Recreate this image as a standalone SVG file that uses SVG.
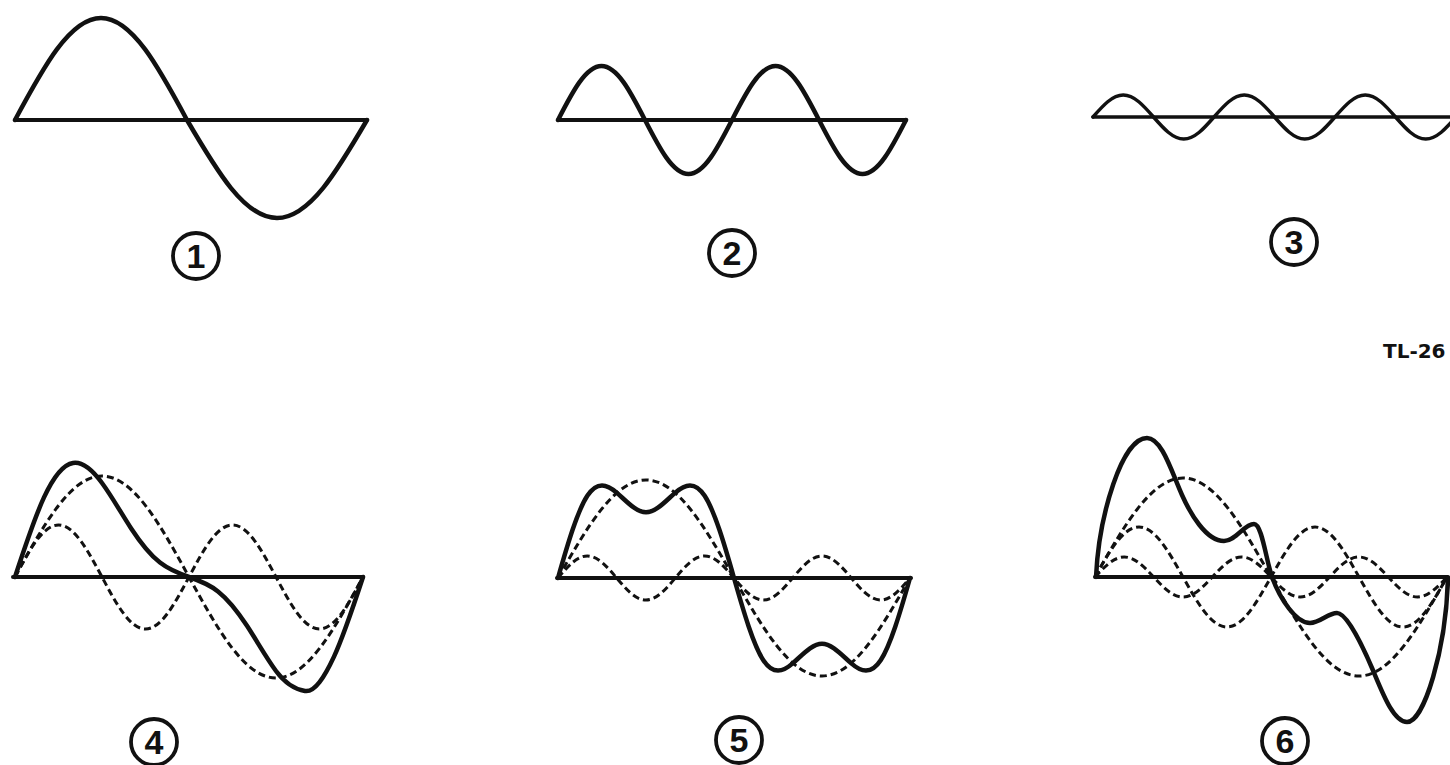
<svg xmlns="http://www.w3.org/2000/svg" width="1450" height="765" viewBox="0 0 1450 765">
<style>
.axis{stroke:#111;stroke-width:4;fill:none;stroke-linecap:round}
.solid{stroke:#111;stroke-width:4.5;fill:none;stroke-linecap:round;stroke-linejoin:round}
.thin{stroke-width:3.5}
.dash{stroke:#111;stroke-width:3;fill:none;stroke-dasharray:7 4}
.lbl circle{fill:none;stroke:#111;stroke-width:3.8}
.lbl text{font-family:"Liberation Sans",Arial,sans-serif;font-weight:bold;font-size:34px;fill:#111;text-anchor:middle}
.code{font-family:"DejaVu Sans",Verdana,sans-serif;font-weight:bold;font-size:20px;fill:#111}
</style>
<rect width="1450" height="765" fill="#fff"/>

<g id="fig1">
<line class="axis" x1="15" y1="120" x2="367" y2="120"/>
<path class="solid" d="M15,120 C43.04,67.75 69.88,18 101,18 C132.12,18 158.96,67.75 187,120 C216.35,170.2 244.43,218 277,218 C309.57,218 337.65,170.2 367,120"/>
</g>
<g id="label1" class="lbl"><circle cx="196" cy="256" r="23"/><text x="196" y="268">1</text></g>

<g id="fig2">
<line class="axis" x1="558" y1="120" x2="906" y2="120"/>
<path class="solid" d="M558,120 c14.19,-27.66 27.76,-54 43.5,-54 c15.74,0 29.31,26.34 43.5,54 c14.19,27.66 27.76,54 43.5,54 c15.74,0 29.31,-26.34 43.5,-54 c14.19,-27.66 27.76,-54 43.5,-54 c15.74,0 29.31,26.34 43.5,54 c14.19,27.66 27.76,54 43.5,54 c15.74,0 29.31,-26.34 43.5,-54"/>
</g>
<g id="label2" class="lbl"><circle cx="732" cy="253" r="23"/><text x="732" y="265">2</text></g>

<g id="fig3">
<line class="axis thin" x1="1093" y1="117" x2="1456" y2="117"/>
<path class="solid thin" d="M1093,117 c9.86,-11.27 19.3,-22 30.25,-22 c10.95,0 20.39,10.73 30.25,22 c9.86,11.27 19.3,22 30.25,22 c10.95,0 20.39,-10.73 30.25,-22 c9.86,-11.27 19.3,-22 30.25,-22 c10.95,0 20.39,10.73 30.25,22 c9.86,11.27 19.3,22 30.25,22 c10.95,0 20.39,-10.73 30.25,-22 c9.86,-11.27 19.3,-22 30.25,-22 c10.95,0 20.39,10.73 30.25,22 c9.86,11.27 19.3,22 30.25,22 c10.95,0 20.39,-10.73 30.25,-22"/>
</g>
<g id="label3" class="lbl"><circle cx="1294" cy="242" r="23"/><text x="1294" y="254">3</text></g>

<text id="code" class="code" x="1383" y="358">TL-26</text>

<g id="fig4">
<line class="axis" x1="13" y1="577" x2="363" y2="577"/>
<path class="dash" d="M15,577 c28.37,-51.74 55.51,-101 87,-101 c31.49,0 58.63,49.26 87,101 c28.37,51.74 55.51,101 87,101 c31.49,0 58.63,-49.26 87,-101"/>
<path class="dash" d="M15,577 c14.19,-26.64 27.76,-52 43.5,-52 c15.74,0 29.31,25.36 43.5,52 c14.19,26.64 27.76,52 43.5,52 c15.74,0 29.31,-25.36 43.5,-52 c14.19,-26.64 27.76,-52 43.5,-52 c15.74,0 29.31,25.36 43.5,52 c14.19,26.64 27.76,52 43.5,52 c15.74,0 29.31,-25.36 43.5,-52"/>
<path class="solid" d="M15,577 C24.67,547.5 34.33,518.2 44,497.4 C53.67,476.6 63.33,464.6 73,463 C82.67,461.4 92.33,469.9 102,483 C111.67,496.1 121.33,513.4 131,528.2 C140.67,543 150.33,555 160,562.6 C169.67,570.2 179.33,573.7 189,577 C198.67,580.3 208.33,583.8 218,591.4 C227.67,599 237.33,611 247,625.8 C256.67,640.6 266.33,657.9 276,671 C285.67,684.1 295.33,689.4 305,691 C314.67,692.6 324.33,677.4 334,656.6 C343.67,635.8 353.33,606.5 363,577"/>
</g>
<g id="label4" class="lbl"><circle cx="154" cy="742" r="23"/><text x="154" y="754">4</text></g>

<g id="fig5">
<line class="axis" x1="557" y1="578" x2="911" y2="578"/>
<path class="dash" d="M558,578 c28.7,-50.2 56.15,-98 88,-98 c31.85,0 59.3,47.8 88,98 c28.7,50.2 56.15,98 88,98 c31.85,0 59.3,-47.8 88,-98"/>
<path class="dash" d="M558,578 c9.57,-11.27 18.72,-22 29.33,-22 c10.62,0 19.76,10.73 29.33,22 c9.57,11.27 18.72,22 29.33,22 c10.62,0 19.76,-10.73 29.33,-22 c9.57,-11.27 18.72,-22 29.33,-22 c10.62,0 19.76,10.73 29.33,22 c9.57,11.27 18.72,22 29.33,22 c10.62,0 19.76,-10.73 29.33,-22 c9.57,-11.27 18.72,-22 29.33,-22 c10.62,0 19.76,10.73 29.33,22 c9.57,11.27 18.72,22 29.33,22 c10.62,0 19.76,-10.73 29.33,-22"/>
<path class="solid" d="M558,578 C567.78,543.6 577.56,510.7 587.33,495.8 C597.11,480.9 606.89,484 616.67,492.6 C626.44,501.2 636.22,512.3 646,512.3 C655.78,512.3 665.56,501.2 675.33,492.6 C685.11,484 694.89,480.9 704.67,495.8 C714.44,510.7 724.22,543.6 734,578 C743.78,612.4 753.56,645.3 763.33,660.2 C773.11,675.1 782.89,672 792.67,663.4 C802.44,654.8 812.22,643.7 822,643.7 C831.78,643.7 841.56,654.8 851.33,663.4 C861.11,672 870.89,675.1 880.67,660.2 C890.44,645.3 900.22,612.4 910,578"/>
</g>
<g id="label5" class="lbl"><circle cx="739" cy="740" r="23"/><text x="739" y="752">5</text></g>

<g id="fig6">
<line class="axis" x1="1095" y1="577" x2="1448" y2="577"/>
<path class="dash" d="M1095,577 c28.7,-50.72 56.15,-99 88,-99 c31.85,0 59.3,48.28 88,99 c28.7,50.72 56.15,99 88,99 c31.85,0 59.3,-48.28 88,-99"/>
<path class="dash" d="M1095,577 c14.35,-25.6 28.08,-50 44,-50 c15.92,0 29.65,24.4 44,50 c14.35,25.6 28.08,50 44,50 c15.92,0 29.65,-24.4 44,-50 c14.35,-25.6 28.08,-50 44,-50 c15.92,0 29.65,24.4 44,50 c14.35,25.6 28.08,50 44,50 c15.92,0 29.65,-24.4 44,-50"/>
<path class="dash" d="M1095,577 c9.57,-10.25 18.72,-20 29.33,-20 c10.62,0 19.76,9.75 29.33,20 c9.57,10.25 18.72,20 29.33,20 c10.62,0 19.76,-9.75 29.33,-20 c9.57,-10.25 18.72,-20 29.33,-20 c10.62,0 19.76,9.75 29.33,20 c9.57,10.25 18.72,20 29.33,20 c10.62,0 19.76,-9.75 29.33,-20 c9.57,-10.25 18.72,-20 29.33,-20 c10.62,0 19.76,9.75 29.33,20 c9.57,10.25 18.72,20 29.33,20 c10.62,0 19.76,-9.75 29.33,-20"/>
<path class="solid" d="M1096,577 C1099,515 1122,438 1147,438 C1162,438 1172,473 1182,495 C1190,513 1206,541 1224,541 C1236,541 1244,524 1254,524 C1262,524 1266,560 1272,577 C1280,599 1296,623 1310,623 C1320,623 1328,613 1337,613 C1347,613 1363,647 1372,668 C1382,691.5 1393,722 1407,722 C1424,722 1446,650 1448,578"/>
</g>
<g id="label6" class="lbl"><circle cx="1285" cy="741" r="23"/><text x="1285" y="753">6</text></g>
</svg>
